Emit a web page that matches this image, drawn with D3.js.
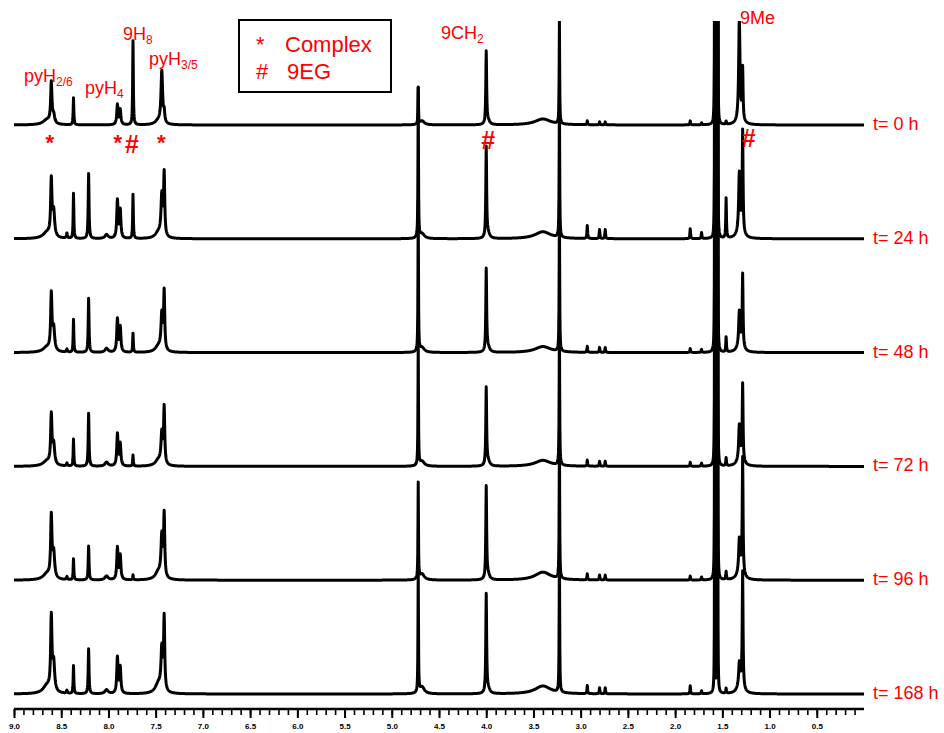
<!DOCTYPE html>
<html>
<head>
<meta charset="utf-8">
<script src="https://cdn.jsdelivr.net/npm/d3@7"></script>
<style>
  body { margin: 0; background: #fff; }
  text { font-family: "Liberation Sans", Arial, sans-serif; }
</style>
</head>
<body>
<div id="chart"></div>
<script>
// stacked 1H NMR spectra, one row per reaction time
const times = ['t= 0 h', 't= 24 h', 't= 48 h', 't= 72 h', 't= 96 h', 't= 168 h'];

// peak list: position (ppm) and half width (ppm)
const peakPpm   = [8.65, 8.605, 8.58, 8.44, 8.37, 8.21, 8.02, 7.905, 7.875, 7.74, 7.47, 7.435, 7.41,
                   4.72, 4.68, 4.00, 3.98, 3.40, 3.225, 2.93, 2.80, 2.74, 1.84, 1.72, 1.58, 1.55,
                   1.46, 1.32, 1.285, 1.31];
const peakWidth = [0.05, 0.008, 0.012, 0.006, 0.004, 0.005, 0.02, 0.008, 0.008, 0.004, 0.04, 0.01, 0.007,
                   0.003, 0.03, 0.005, 0.02, 0.1, 0.003, 0.004, 0.004, 0.004, 0.004, 0.004, 0.0015, 0.0015,
                   0.004, 0.008, 0.005, 0.03];

// peak heights for each spectrum (same order as peakPpm)
const h0   = [5, 40, 8, 0, 27, 0, 0, 20, 15, 84, 4, 52, 10, 36, 4, 72, 4, 6, 104, 4, 3, 3, 4, 2, 800, 800, 3, 98, 50, 8];
const h24  = [6, 55, 25, 5, 45, 65, 4, 38, 28, 44, 6, 40, 62, 150, 5, 90, 5, 7, 150, 13, 9, 9, 10, 6, 800, 800, 40, 55, 100, 12];
const h48  = [5, 55, 22, 3, 33, 54, 4, 33, 25, 19, 6, 35, 58, 150, 5, 82, 5, 6, 150, 6, 5, 5, 4, 3, 800, 800, 15, 32, 72, 10];
const h72  = [5, 48, 20, 3, 27, 53, 4, 32, 22, 11, 6, 30, 56, 125, 5, 77, 5, 6, 150, 6, 5, 5, 4, 3, 800, 800, 8, 32, 76, 10];
const h96  = [6, 60, 25, 3, 21, 34, 4, 32, 24, 5, 8, 40, 62, 96, 6, 92, 5, 8, 150, 6, 5, 5, 4, 3, 800, 800, 8, 30, 115, 12];
const h168 = [8, 72, 28, 3, 28, 45, 4, 36, 26, 0, 10, 40, 72, 125, 7, 98, 5, 8, 150, 8, 6, 6, 8, 3, 800, 800, 5, 20, 115, 12];
const heightRows = [h0, h24, h48, h72, h96, h168];

const axisMajor = [9.0, 8.5, 8.0, 7.5, 7.0, 6.5, 6.0, 5.5, 5.0, 4.5, 4.0, 3.5, 3.0, 2.5, 2.0, 1.5, 1.0, 0.5];

const svgWidth = 944, svgHeight = 733;

const svg = d3.select('#chart')
    .append('svg')
    .attr('width', svgWidth)
    .attr('height', svgHeight);

const xScale = d3.scaleLinear().domain([9, 0]).range([14, 864]);
const rowScale = d3.scaleLinear().domain([0, times.length - 1]).range([125, 694]);
const ampScale = d3.scaleLinear().domain([0, 100]).range([0, 100]);

svg.append('clipPath')
    .attr('id', 'plotClip')
    .append('rect')
    .attr('x', 0).attr('y', 21)
    .attr('width', svgWidth).attr('height', 700);

// sample grid, with every peak centre added so narrow lines are not missed
const grid = d3.range(0, 9.0001, 0.0025).concat(peakPpm).sort((a, b) => b - a);

function spectrum(heights) {
    return grid.map(p => {
        let v = 0;
        peakPpm.forEach((c, k) => {
            const w = peakWidth[k], dd = p - c;
            v += heights[k] * w * w / (dd * dd + w * w);
        });
        return {ppm: p, v: v};
    });
}

const plot = svg.append('g').attr('clip-path', 'url(#plotClip)');

heightRows.forEach((heights, i) => {
    const base = rowScale(i);
    const line = d3.line()
        .x(d => xScale(d.ppm))
        .y(d => base - ampScale(d.v));

    plot.append('path')
        .datum(spectrum(heights))
        .attr('fill', 'none')
        .attr('stroke', '#000')
        .attr('stroke-width', 3)
        .attr('stroke-linejoin', 'round')
        .attr('d', line);

    svg.append('text')
        .attr('x', 873)
        .attr('y', base + 5)
        .attr('fill', 'red')
        .attr('font-size', 18)
        .text(times[i]);
});

// ppm axis
const minorTicks = d3.range(90, 0, -1).map(d => d / 10);

svg.append('g')
    .attr('transform', 'translate(0, 709)')
    .call(d3.axisBottom(xScale).tickValues(minorTicks).tickSize(6).tickFormat(''))
    .call(g => g.select('.domain').remove())
    .call(g => g.selectAll('line').attr('stroke', '#000').attr('stroke-width', 1.6));

svg.append('g')
    .attr('transform', 'translate(0, 709)')
    .call(d3.axisBottom(xScale).tickValues(axisMajor).tickSize(9).tickSizeOuter(0).tickFormat(d3.format('.1f')))
    .call(g => g.select('.domain').attr('stroke-width', 2.4).attr('d', `M${xScale(9)},0H${xScale(0)}`))
    .call(g => g.selectAll('line').attr('stroke', '#000').attr('stroke-width', 2))
    .call(g => g.selectAll('text')
        .attr('y', 14)
        .attr('font-size', 8)
        .attr('font-weight', 'bold')
        .attr('fill', '#000')
        .attr('font-family', '"Liberation Sans Narrow", "Liberation Sans", Arial, sans-serif'));

// peak assignments
function label(x, y, main, sub, size) {
    const t = svg.append('text')
        .attr('x', x).attr('y', y)
        .attr('fill', 'red')
        .attr('font-size', size || 18);
    t.append('tspan').text(main);
    if (sub) {
        t.append('tspan').attr('font-size', 12).attr('dy', 4).text(sub);
    }
}
label(24, 82, 'pyH', '2/6');
label(85, 94, 'pyH', '4');
label(123, 40, '9H', '8');
label(149, 65, 'pyH', '3/5');
label(441, 39, '9CH', '2');
label(740, 24, '9Me');

const starMarks = [8.62, 7.90, 7.44];
const hashMarks = [{ppm: 7.75, y: 153}, {ppm: 3.98, y: 149}, {ppm: 1.22, y: 147}];

svg.selectAll('.star')
    .data(starMarks)
    .enter()
    .append('text')
    .attr('x', d => xScale(d))
    .attr('y', 150)
    .attr('text-anchor', 'middle')
    .attr('fill', 'red')
    .attr('font-size', 22)
    .attr('font-weight', 'bold')
    .text('*');

svg.selectAll('.hash')
    .data(hashMarks)
    .enter()
    .append('text')
    .attr('x', d => xScale(d.ppm))
    .attr('y', d => d.y)
    .attr('text-anchor', 'middle')
    .attr('fill', 'red')
    .attr('font-size', 25)
    .attr('font-weight', 'bold')
    .text('#');

// legend
const legend = svg.append('g');
legend.append('rect')
    .attr('x', 239).attr('y', 20)
    .attr('width', 152).attr('height', 72)
    .attr('fill', 'none')
    .attr('stroke', '#000')
    .attr('stroke-width', 2);
legend.append('text').attr('x', 256).attr('y', 52).attr('fill', 'red').attr('font-size', 22).text('*');
legend.append('text').attr('x', 285).attr('y', 52).attr('fill', 'red').attr('font-size', 22).text('Complex');
legend.append('text').attr('x', 256).attr('y', 79).attr('fill', 'red').attr('font-size', 22).text('#');
legend.append('text').attr('x', 287).attr('y', 79).attr('fill', 'red').attr('font-size', 22).text('9EG');
</script>
</body>
</html>
